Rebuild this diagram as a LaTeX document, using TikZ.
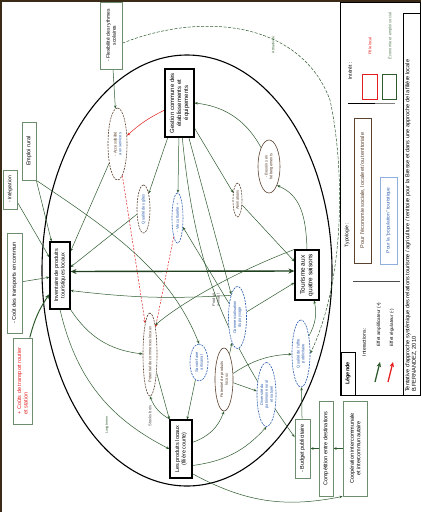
\documentclass[tikz,border=0pt]{standalone}
\usepackage{fontspec}
\setmainfont{Liberation Sans}
\usetikzlibrary{shapes.geometric,arrows.meta}
\definecolor{dgreen}{HTML}{2E5B2E}
\definecolor{ogreen}{HTML}{6E8C6E}
\definecolor{brn}{HTML}{5C4330}
\definecolor{blu}{HTML}{2F5FAF}
\definecolor{lblu}{HTML}{8FB0DD}
\definecolor{rd}{HTML}{E41E1E}
\definecolor{framec}{HTML}{3A2A18}
\newcommand{\fsz}[2]{\fontsize{#1}{#2}\selectfont}
\pgfdeclarelayer{bg}
\pgfsetlayers{bg,main}
\begin{document}
\begin{tikzpicture}[x=1pt,y=-1pt,
  bigbox/.style={draw=black,line width=1.1pt,rotate=90,align=center,inner sep=1pt,fill=white,font=\fsz{6}{7}},
  outbox/.style={draw=ogreen,line width=0.8pt,rotate=90,align=center,inner sep=1pt,fill=white,font=\fsz{5.5}{6.5}},
  bell/.style={ellipse,draw=brn,dash pattern=on 2pt off 1pt,line width=0.6pt,rotate=90,align=center,inner sep=0pt,fill=white,text=brn,font=\fsz{4}{4.8}},
  bellsolid/.style={bell,solid},
  blell/.style={bell,draw=blu,text=blu},
  lbl/.style={rotate=90,align=center,inner sep=0.5pt},
  arr/.style={dgreen,line width=0.5pt,-{Stealth[length=3.2pt,width=2.6pt]}},
  rarr/.style={rd,line width=0.5pt,-{Stealth[length=3.2pt,width=2.6pt]}},
  rdarr/.style={rarr,dash pattern=on 2pt off 1.5pt},
  thickarr/.style={dgreen!70!black,line width=1.4pt,{Stealth[length=6pt,width=5pt]}-{Stealth[length=6pt,width=5pt]}},
  medarr/.style={dgreen,line width=1pt,-{Stealth[length=5pt,width=4pt]}}
]
\useasboundingbox (0,0) rectangle (421,512);

% ---------- main boxes ----------
\node[bigbox,minimum width=68pt,minimum height=29pt] (gest) at (179.5,103) {Gestion commune des\\établissements et\\équipements};
\node[bigbox,minimum width=67pt,minimum height=20pt,font=\fsz{5.5}{6.5}] (inv) at (60,275.5) {Inventaire de produits\\touristiques locaux};
\node[bigbox,minimum width=50pt,minimum height=24pt,font=\fsz{6.5}{7.5}] (tour) at (307,275) {Tourisme aux\\quatre saisons};
\node[bigbox,minimum width=58pt,minimum height=22pt,font=\fsz{5.5}{6.5}] (prod) at (181,449) {Les produits locaux\\(filière courte)};

% ---------- outer boxes ----------
\node[outbox,minimum width=67pt,minimum height=22pt,font=\fsz{5}{6}] (flex) at (111,35.5) {- Flexibilité des rythmes\\scolaires};
\node[outbox,minimum width=58pt,minimum height=14pt] (empl) at (29,151) {Emploi rural};
\node[outbox,minimum width=39pt,minimum height=14pt,font=\fsz{5}{6}] (info) at (10,189.5) {- Intégration};
\node[outbox,minimum width=100pt,minimum height=15pt] (cout) at (14.5,283) {- Coût des transports en commun};
\node[outbox,minimum width=86pt,minimum height=19pt,text=rd,align=left] (route) at (22.5,381) {+ Coûts de transport routier\\et station};
\node[outbox,minimum width=95pt,minimum height=24pt] (coop) at (355,448.5) {Coopération intercommunale\\et intercommunautaire};
\node[outbox,minimum width=95pt,minimum height=14pt] (comp) at (326,448.5) {Compétition entre destinations};
\node[outbox,minimum width=59pt,minimum height=15pt] (budg) at (302.5,448.5) {- Budget publicitaire};

% ---------- ellipses ----------
\node[bell,minimum width=72pt,minimum height=19pt] (e1) at (117.5,144) {- Accessibilité\\\textcolor{blu}{aux services}};
\node[bell,minimum width=48pt,minimum height=13pt,text=blu] (e2) at (143.5,209) {Qualité des gîtes};
\node[blell,minimum width=50pt,minimum height=11pt] (e3) at (177.5,218) {- Vie culturelle +};
\node[bell,minimum width=34pt,minimum height=9pt] (e4) at (237.5,200) {Animations};
\node[bellsolid,minimum width=53pt,minimum height=22pt] (e5) at (269,166.5) {- Besoins en\\hébergements};
\node[bell,minimum width=83pt,minimum height=14pt] (e6) at (150,354.5) {Potentiel de commerces locaux};
\node[blell,minimum width=37pt,minimum height=18pt] (e7) at (199,362.5) {Savoir-faire\\artisanal};
\node[bellsolid,minimum width=63pt,minimum height=18pt] (e8) at (224,379.5) {Potentiel de produits\\locaux};
\node[blell,minimum width=64pt,minimum height=19pt] (e9) at (266.5,394.5) {Diversité du\\patrimoine rural\\et naturel};
\node[blell,minimum width=62pt,minimum height=18pt] (e10) at (237.5,317.5) {Commercialisation\\du paysage};
\node[blell,minimum width=67pt,minimum height=18pt] (e11) at (301,353.5) {Qualité de l'offre\\publicitaire};

% ---------- free labels ----------
\node[lbl,text=dgreen,font=\fsz{3.5}{4}] (attr) at (273,45) {Attractivité};
\node[lbl,text=gray!60!black,font=\fsz{4}{4.5}] (stk) at (150,416) {Stocks bois};
\node[lbl,text=gray!60!black,font=\fsz{4}{4.5}] (ann) at (216,300) {Produit\\annuel};
\node[lbl,text=dgreen,font=\fsz{3.5}{4}] (lgt) at (107,425) {Long terme};

% ---------- legend ----------
\draw[line width=1pt] (340,2) rectangle (420,395);
\draw[line width=0.8pt] (403,395) -- (403,13) -- (420,13);
\node[draw=black,line width=1pt,rotate=90,minimum width=43pt,minimum height=14pt,font=\bfseries\fsz{5.5}{6}] (leg) at (348,373.5) {Légende};
\node[lbl,font=\fsz{5}{6}] (inter) at (350,71) {Intérêt :};
\node[draw=rd,line width=0.8pt,rotate=90,minimum width=25pt,minimum height=15pt] (rbox) at (369.5,86.5) {};
\node[draw=dgreen,line width=0.8pt,rotate=90,minimum width=25pt,minimum height=14pt] (gbox) at (389,86.5) {};
\node[lbl,text=rd,font=\fsz{4}{5}] (rtxt) at (370,46) {Pôle local};
\node[lbl,text=dgreen!80,font=\fsz{4}{5}] (gtxt) at (390,36) {Économie et emploi social};
\draw[line width=1pt] (348,103) -- (375,103);
\draw[gray,line width=1pt] (375,103) -- (395,103);
\node[lbl,font=\fsz{5}{6}] (typo) at (347,235) {Typologie :};
\node[draw=brn,line width=0.8pt,rotate=90,text=brn,minimum width=145pt,minimum height=17pt,font=\fsz{5.5}{6}] (tbrn) at (362.5,190.5) {Pour l'économie sociale, locale et/ou territoriale};
\node[draw=lblu,line width=0.8pt,rotate=90,text=blu,minimum width=87pt,minimum height=17pt,font=\fsz{4.8}{5.5}] (tblu) at (388.5,220.5) {Pour la "population" touristique};
\draw[gray!60!black,line width=0.6pt] (353,281) -- (400,281);
\node[lbl,anchor=west,font=\fsz{5}{6}] (intr) at (364,357) {Interactions :};
\coordinate (ga1) at (375,382); \coordinate (ga2) at (380,362);
\coordinate (ra1) at (388,382); \coordinate (ra2) at (393,362);
\draw[dgreen,line width=1.3pt,-{Stealth[length=5pt,width=4.5pt]}] (ga1) -- (ga2);
\draw[rd,line width=1.3pt,-{Stealth[length=5pt,width=4.5pt]}] (ra1) -- (ra2);
\node[lbl,anchor=west,font=\fsz{4.6}{5.5}] (ampl) at (379,347) {Effet amplificateur (+)};
\node[lbl,anchor=west,font=\fsz{4.6}{5.5}] (regu) at (392,347) {Effet régulateur (-)};
\node[rotate=90,anchor=north west,align=left,inner sep=1pt,font=\fsz{5.6}{6.5}] (cred) at (404,393) {Tentative d'approche systémique des relations tourisme / agriculture / territoire pour la Bresse et dans une approche de la filière locale\\B.FERNANDEZ, 2010};

% ---------- connectors (background) ----------
\begin{pgfonlayer}{bg}
\fill[white] (0,0) rectangle (421,512);
\draw[line width=1.1pt] (187,270.5) ellipse [x radius=145pt, y radius=215.5pt];
\draw[arr] (flex) -- (e1);
\draw[rarr] (gest) to[bend right=8] (e1);
\draw[rdarr] (e1) -- (e6);
\draw[rdarr] (e3) -- (e6);
\draw[arr] (gest) -- (e2);
\draw[arr] (gest) -- (e3);
\draw[arr] (gest) -- (e4);
\draw[arr] (gest) -- (e10);
\draw[arr] (gest) to[bend right=15] (budg);
\draw[arr] (e5.north east) .. controls (245,118) and (222,106) .. (gest.south);
\draw[arr] (tour.east) .. controls (306,215) and (300,195) .. (e5.south west);
\draw[arr] (e4) -- (tour);
\draw[arr] (e10) -- (e3);
\draw[arr] (empl) -- (inv);
\draw[arr] (info) -- (inv);
\draw[arr] (e1) -- (inv);
\draw[arr] (empl.south west) .. controls (110,230) and (170,270) .. (e7.east);
\draw[arr] (e2) -- (inv);
\draw[thickarr] ([yshift=4pt]inv.south) -- ([yshift=4pt]tour.north);
\draw[arr] (e10.north east) to[bend left=5] (inv.215);
\draw[arr] (cout) -- (inv);
\draw[medarr] (route) to[bend left=10] (inv);
\draw[arr] (inv.south west) to[bend right=25] (e6);
\draw[arr] (inv.west) to[bend right=25] (prod.north);
\draw[arr] (prod.20) to[bend left=20] (e6.west);
\draw[arr] (e6.200) -- (prod.north east);
\draw[arr] (e7) -- (prod);
\draw[arr] (prod.300) to[bend right=25] (e8.west);
\draw[arr] (e8) -- (e9);
\draw[arr] (e8) -- (e10);
\draw[arr] (e8) to[bend left=15] (e11);
\draw[arr] (e10) -- (tour);
\draw[arr] (e11) to[bend right=20] (tour);
\draw[arr,dash pattern=on 3pt off 1.5pt] (flex.236) .. controls (200,12) and (300,20) .. (330,100) .. controls (345,170) and (345,280) .. (e11.south);
\draw[arr] (prod.215) to[bend right=20] (e9.west);
\draw[arr] (prod.205) to[bend right=20] (coop.north west);
\draw[arr] (comp) -- (budg);
\draw[arr] (coop) -- (comp);
\draw[arr] (budg) -- (e11);
\draw[arr] (tour.north east) .. controls (240,270) and (185,300) .. (e6.350);
\end{pgfonlayer}

% ---------- page frame ----------
\draw[framec,line width=2pt] (1,512) -- (1,1) -- (421,1);
\end{tikzpicture}
\end{document}
